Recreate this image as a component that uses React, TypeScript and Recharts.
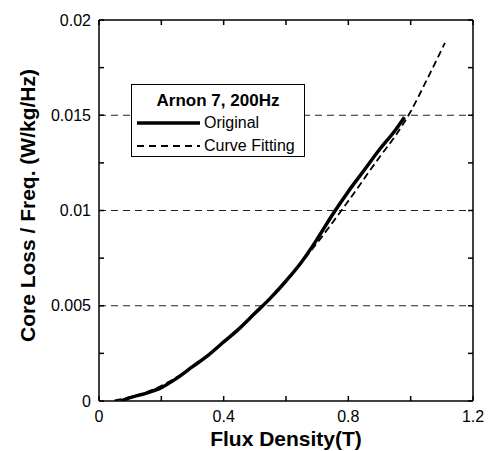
import React from 'react';
import {
    LineChart,
    Line,
    XAxis,
    YAxis,
    ReferenceLine,
    Legend,
} from 'recharts';

// flux density (T) vs core loss per frequency (W/kg/Hz)
const originalB = [0.07, 0.1, 0.15, 0.2, 0.25, 0.3, 0.35, 0.4, 0.45, 0.5, 0.55, 0.6, 0.65, 0.7, 0.75, 0.8, 0.85, 0.9, 0.95, 0.98];
const originalLoss = [0, 0.00018, 0.0004, 0.0007, 0.0012, 0.0018, 0.0024, 0.0031, 0.0038, 0.0046, 0.0054, 0.0063, 0.0073, 0.0085, 0.0098, 0.011, 0.0121, 0.0132, 0.0142, 0.0149];

const fitB = [0.05, 0.1, 0.2, 0.3, 0.4, 0.5, 0.6, 0.7, 0.8, 0.9, 0.95, 1.0, 1.05, 1.11];
const fitLoss = [0.00003, 0.0002, 0.0008, 0.0018, 0.0031, 0.0046, 0.0063, 0.0083, 0.0105, 0.0128, 0.0139, 0.0152, 0.0168, 0.0188];

const xTicks = [0, 0.2, 0.4, 0.6, 0.8, 1.0, 1.2];
const xLabels = [0, 0.4, 0.8, 1.2];
const yTicks = [0, 0.0025, 0.005, 0.0075, 0.01, 0.0125, 0.015, 0.0175, 0.02];
const yLabels = [0, 0.005, 0.01, 0.015, 0.02];
const gridValues = [0.005, 0.01, 0.015];

const legendTitle = 'Arnon 7, 200Hz';
const originalName = 'Original';
const fitName = 'Curve Fitting';

const originalData = originalB.map((b, i) => ({ b, loss: originalLoss[i] }));
const fitData = fitB.map((b, i) => ({ b, loss: fitLoss[i] }));

const font = '"Liberation Sans", Arial, sans-serif';

const LegendBox = () => (
    <div
        style={{
            position: 'relative',
            width: 172,
            height: 71,
            border: '1px solid #000',
            background: '#fff',
            fontFamily: font,
            color: '#000',
        }}
    >
        <div style={{ position: 'absolute', left: 0, right: 0, top: 6, textAlign: 'center', fontWeight: 'bold', fontSize: 17, lineHeight: '20px' }}>
            {legendTitle}
        </div>
        <svg style={{ position: 'absolute', left: 0, top: 0 }} width={172} height={71}>
            <line x1={5} x2={68} y1={38} y2={38} stroke="#000" strokeWidth={3.5} />
            <line x1={5} x2={68} y1={61} y2={61} stroke="#000" strokeWidth={1.8} strokeDasharray="7 5" />
        </svg>
        <div style={{ position: 'absolute', left: 72, top: 28, fontSize: 16, lineHeight: '20px' }}>{originalName}</div>
        <div style={{ position: 'absolute', left: 72, top: 51, fontSize: 16, lineHeight: '20px' }}>{fitName}</div>
    </div>
);

const YTitle = ({ viewBox }: any) => {
    const cy = viewBox.y + viewBox.height / 2 - 5;
    return (
        <text
            x={35}
            y={cy}
            transform={`rotate(-90 35 ${cy})`}
            textAnchor="middle"
            fontFamily={font}
            fontWeight="bold"
            fontSize={21}
            fill="#000"
        >
            Core Loss / Freq. (W/kg/Hz)
        </text>
    );
};

const tickStyle = { fontFamily: font, fontSize: 16, fill: '#000' };

export default function App() {
    return (
        <div style={{ position: 'absolute', left: 0, top: 0, background: '#fff' }}>
            <LineChart width={489} height={451} margin={{ top: 20, right: 16, bottom: 0, left: 0 }}>
                <XAxis
                    xAxisId="b"
                    type="number"
                    dataKey="b"
                    domain={[0, 1.2]}
                    ticks={xTicks}
                    tickFormatter={(v: number) => (xLabels.includes(v) ? String(v) : '')}
                    tick={tickStyle}
                    tickSize={-5}
                    tickMargin={15}
                    height={50}
                    stroke="#000"
                    strokeWidth={1.5}
                    allowDataOverflow
                    label={{ value: 'Flux Density(T)', position: 'insideBottom', offset: 5, style: { fontFamily: font, fontWeight: 'bold', fontSize: 21, fill: '#000' } }}
                />
                <XAxis
                    xAxisId="top"
                    orientation="top"
                    mirror
                    type="number"
                    dataKey="b"
                    domain={[0, 1.2]}
                    ticks={xTicks}
                    tickFormatter={() => ''}
                    tickSize={5}
                    stroke="#000"
                    strokeWidth={1.5}
                    allowDataOverflow
                />
                <YAxis
                    yAxisId="l"
                    type="number"
                    dataKey="loss"
                    domain={[0, 0.02]}
                    ticks={yTicks}
                    tickFormatter={(v: number) => (yLabels.includes(v) ? String(v) : '')}
                    tick={tickStyle}
                    tickSize={-5}
                    tickMargin={13}
                    width={99}
                    stroke="#000"
                    strokeWidth={1.5}
                    allowDataOverflow
                    label={<YTitle />}
                />
                <YAxis
                    yAxisId="r"
                    orientation="right"
                    mirror
                    type="number"
                    dataKey="loss"
                    domain={[0, 0.02]}
                    ticks={yTicks}
                    tickFormatter={() => ''}
                    tickSize={5}
                    stroke="#000"
                    strokeWidth={1.5}
                    allowDataOverflow
                />
                {gridValues.map((v) => (
                    <ReferenceLine key={v} xAxisId="b" yAxisId="l" y={v} stroke="#222" strokeWidth={1} strokeDasharray="7 5" />
                ))}
                <Legend
                    layout="vertical"
                    align="center"
                    verticalAlign="middle"
                    content={<LegendBox />}
                    wrapperStyle={{ left: 131, top: 84, width: 174 }}
                />
                <Line
                    xAxisId="b"
                    yAxisId="l"
                    data={originalData}
                    dataKey="loss"
                    type="monotone"
                    stroke="#000"
                    strokeWidth={3.5}
                    dot={false}
                    isAnimationActive={false}
                />
                <Line
                    xAxisId="b"
                    yAxisId="l"
                    data={fitData}
                    dataKey="loss"
                    type="monotone"
                    stroke="#000"
                    strokeWidth={1.8}
                    strokeDasharray="7 4"
                    dot={false}
                    isAnimationActive={false}
                />
            </LineChart>
        </div>
    );
}
